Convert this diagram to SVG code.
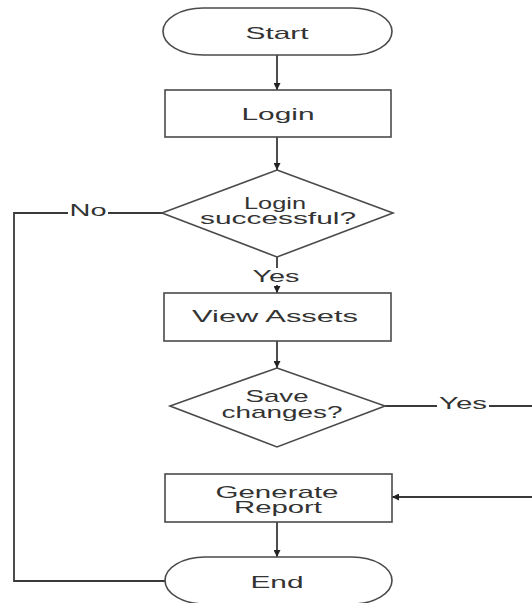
<svg xmlns="http://www.w3.org/2000/svg" width="532" height="603" viewBox="0 0 532 603">
<style>
.shape{fill:#fff;stroke:#4a4a4a;stroke-width:1.6}
.conn{fill:none;stroke:#3a3a3a;stroke-width:1.8}
text{font-family:"Liberation Sans",Arial,sans-serif;font-size:17px;fill:#333;text-anchor:middle}
</style>
<defs>
<marker id="arr" viewBox="0 0 10 10" refX="10" refY="5" markerWidth="7" markerHeight="7" markerUnits="userSpaceOnUse" orient="auto">
<path d="M0,0 L10,5 L0,10 z" fill="#222"/>
</marker>
</defs>
<rect width="532" height="603" fill="#fff"/>
<g id="connectors">
<line class="conn" x1="277" y1="55" x2="277" y2="90" marker-end="url(#arr)"/>
<line class="conn" x1="277" y1="137" x2="277" y2="170" marker-end="url(#arr)"/>
<line class="conn" x1="277" y1="257" x2="277" y2="268"/>
<line class="conn" x1="277" y1="285" x2="277" y2="293" marker-end="url(#arr)"/>
<line class="conn" x1="277" y1="341" x2="277" y2="368" marker-end="url(#arr)"/>
<line class="conn" x1="277" y1="522" x2="277" y2="557" marker-end="url(#arr)"/>
<polyline class="conn" points="163,213 108,213"/>
<polyline class="conn" points="68,213 14,213 14,581 165,581"/>
<polyline class="conn" points="385,406 437,406"/>
<polyline class="conn" points="489,406 540,406"/>
<line class="conn" x1="540" y1="497" x2="392" y2="497" marker-end="url(#arr)"/>
<text x="88" y="216" textLength="37" lengthAdjust="spacingAndGlyphs">No</text>
<text x="276" y="282" textLength="47" lengthAdjust="spacingAndGlyphs">Yes</text>
<text x="463" y="409" textLength="48" lengthAdjust="spacingAndGlyphs">Yes</text>
</g>
<g id="start">
<rect class="shape" x="163" y="8" width="229" height="47" rx="40" ry="23.5"/>
<text x="277" y="39" textLength="63" lengthAdjust="spacingAndGlyphs">Start</text>
</g>
<g id="login">
<rect class="shape" x="165" y="90" width="226" height="47"/>
<text x="278" y="120" textLength="73" lengthAdjust="spacingAndGlyphs">Login</text>
</g>
<g id="login-successful">
<polygon class="shape" points="277,170 393,213 277,257 162,213"/>
<text x="275" y="209" textLength="62" lengthAdjust="spacingAndGlyphs">Login</text>
<text x="278" y="224" textLength="156" lengthAdjust="spacingAndGlyphs">successful?</text>
</g>
<g id="view-assets">
<rect class="shape" x="164" y="293" width="227" height="48"/>
<text x="275" y="322" textLength="166" lengthAdjust="spacingAndGlyphs">View Assets</text>
</g>
<g id="save-changes">
<polygon class="shape" points="277,368 385,406 277,447 170,406"/>
<text x="277" y="402" textLength="63" lengthAdjust="spacingAndGlyphs">Save</text>
<text x="282" y="418" textLength="121" lengthAdjust="spacingAndGlyphs">changes?</text>
</g>
<g id="generate-report">
<rect class="shape" x="165" y="474" width="227" height="48"/>
<text x="277" y="498" textLength="123" lengthAdjust="spacingAndGlyphs">Generate</text>
<text x="278" y="513" textLength="88" lengthAdjust="spacingAndGlyphs">Report</text>
</g>
<g id="end">
<rect class="shape" x="165" y="557" width="227" height="47" rx="40" ry="23.5"/>
<text x="277" y="588" textLength="53" lengthAdjust="spacingAndGlyphs">End</text>
</g>
</svg>
